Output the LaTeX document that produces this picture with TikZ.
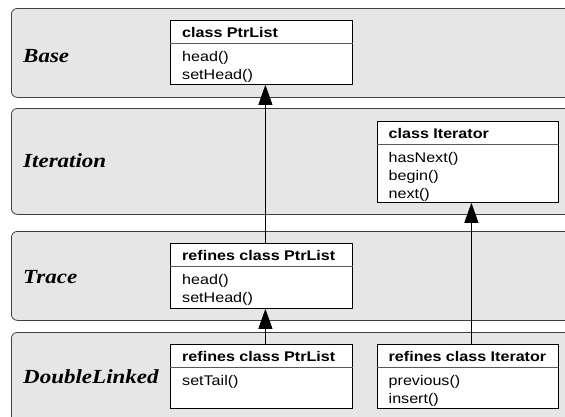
\documentclass[tikz,border=0pt]{standalone}
\usepackage{fontspec}
\setmainfont{Liberation Sans}
\newfontfamily\boxfont[FakeStretch=1.15]{Liberation Sans}
\newfontfamily\layerfont[FakeStretch=1.15]{Liberation Serif}
\usetikzlibrary{arrows.meta,calc}
\definecolor{layerfill}{HTML}{E6E6E6}
\begin{document}
\begin{tikzpicture}[x=1pt,y=-1pt,
  layer/.style={draw=black!75, fill=layerfill, rounded corners=6pt, line width=0.8pt, anchor=north west, inner sep=0pt, minimum width=600},
  layerlabel/.style={anchor=base west, inner sep=0pt, font=\layerfont\bfseries\itshape\fontsize{20}{24}\selectfont},
  classbox/.style={draw=black, fill=white, line width=0.8pt, anchor=north west, inner sep=0pt, minimum width=182},
  hd/.style={anchor=base west, inner sep=0pt, font=\boxfont\bfseries\fontsize{14}{16}\selectfont},
  itm/.style={anchor=base west, inner sep=0pt, font=\boxfont\fontsize{14}{16}\selectfont},
  sepline/.style={draw=black!65, line width=0.8pt},
  inherit/.style={draw=black, line width=0.8pt, -{Triangle[length=20pt,width=14pt]}}]
\useasboundingbox (0,0) rectangle (565,416);
\clip (0,0) rectangle (565,416);

% layers
\node[layer, minimum height=89] (Lbase) at (11,8) {};
\node[layer, minimum height=106] (Liter) at (11,108) {};
\node[layer, minimum height=89] (Ltrace) at (11,231) {};
\node[layer, minimum height=100] (Ldl) at (11,332) {};

\node[layerlabel] (tbase) at (23,62) {Base};
\node[layerlabel] (titer) at (23,167) {Iteration};
\node[layerlabel] (ttrace) at (23,283) {Trace};
\node[layerlabel] (tdl) at (23,383) {DoubleLinked};

% Base: class PtrList
\node[classbox, minimum height=64] (bpl) at (170,20) {};
\draw[sepline] ($(bpl.north west)+(0,23.5)$) -- ($(bpl.north east)+(0,23.5)$);
\node[hd] (bplh) at ($(bpl.north west)+(12,17.5)$) {class PtrList};
\node[itm] (bpl1) at ($(bpl.north west)+(12,41)$) {head()};
\node[itm] (bpl2) at ($(bpl.north west)+(12,59)$) {setHead()};

% Iteration: class Iterator
\node[classbox, minimum width=181, minimum height=81] (iit) at (376.5,121) {};
\draw[sepline] ($(iit.north west)+(0,23.5)$) -- ($(iit.north east)+(0,23.5)$);
\node[hd] (iith) at ($(iit.north west)+(12,17.5)$) {class Iterator};
\node[itm] (iit1) at ($(iit.north west)+(12,41)$) {hasNext()};
\node[itm] (iit2) at ($(iit.north west)+(12,59)$) {begin()};
\node[itm] (iit3) at ($(iit.north west)+(12,77)$) {next()};

% Trace: refines class PtrList
\node[classbox, minimum height=65] (tpl) at (170,243) {};
\draw[sepline] ($(tpl.north west)+(0,23.5)$) -- ($(tpl.north east)+(0,23.5)$);
\node[hd] (tplh) at ($(tpl.north west)+(12,17.5)$) {refines class PtrList};
\node[itm] (tpl1) at ($(tpl.north west)+(12,41)$) {head()};
\node[itm] (tpl2) at ($(tpl.north west)+(12,59)$) {setHead()};

% DoubleLinked
\node[classbox, minimum height=64] (dpl) at (170,344) {};
\draw[sepline] ($(dpl.north west)+(0,23.5)$) -- ($(dpl.north east)+(0,23.5)$);
\node[hd] (dplh) at ($(dpl.north west)+(12,17.5)$) {refines class PtrList};
\node[itm] (dpl1) at ($(dpl.north west)+(12,41)$) {setTail()};

\node[classbox, minimum width=181, minimum height=64] (dit) at (376.5,344) {};
\draw[sepline] ($(dit.north west)+(0,23.5)$) -- ($(dit.north east)+(0,23.5)$);
\node[hd] (dith) at ($(dit.north west)+(12,17.5)$) {refines class Iterator};
\node[itm] (dit1) at ($(dit.north west)+(12,41)$) {previous()};
\node[itm] (dit2) at ($(dit.north west)+(12,59)$) {insert()};

% refinement arrows
\draw[inherit] ($(tpl.north)+(4,0)$) -- ($(bpl.south)+(4,0)$);
\draw[inherit] ($(dpl.north)+(4,0)$) -- ($(tpl.south)+(4,0)$);
\draw[inherit] ($(dit.north)+(4,0)$) -- ($(iit.south)+(4,0)$);
\end{tikzpicture}
\end{document}
